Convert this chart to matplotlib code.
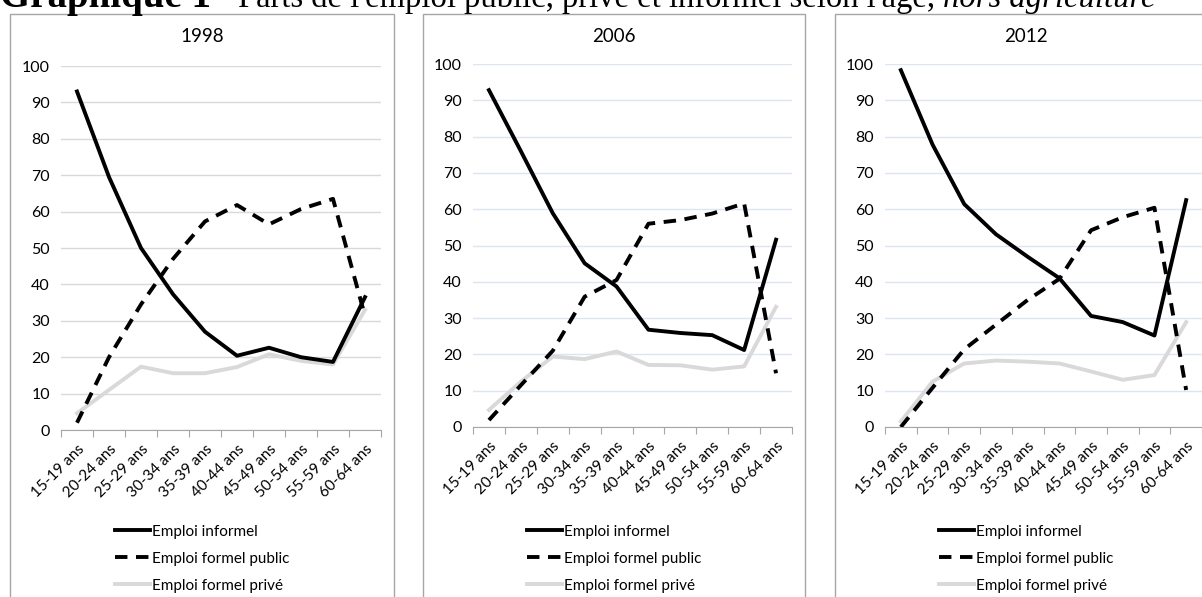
import matplotlib
matplotlib.use("Agg")
import matplotlib.pyplot as plt
from matplotlib.patches import Rectangle

plt.rcParams['font.family'] = ['Lato', 'DejaVu Sans']

ages = ["15-19 ans", "20-24 ans", "25-29 ans", "30-34 ans", "35-39 ans",
        "40-44 ans", "45-49 ans", "50-54 ans", "55-59 ans", "60-64 ans"]
years = ["1998", "2006", "2012"]

informel_1998 = [93, 69.5, 50, 37.3, 27, 20.4, 22.6, 20, 18.7, 36.5]
public_1998 = [2, 20, 34.5, 47, 57.3, 61.8, 56.5, 60.7, 63.5, 31.3]
prive_1998 = [4.6, 11, 17.4, 15.6, 15.6, 17.3, 20.8, 19, 18, 33]

informel_2006 = [92.8, 76, 58.9, 45.1, 38.7, 26.8, 25.9, 25.3, 21.2, 51.6]
public_2006 = [1.9, 11.5, 21, 35.9, 40.5, 56, 57, 58.8, 61.6, 14.8]
prive_2006 = [4.7, 12.5, 19.4, 18.7, 20.8, 17.1, 17, 15.8, 16.7, 33.1]

informel_2012 = [98.3, 77.8, 61.4, 53.1, 46.9, 41, 30.6, 28.9, 25.2, 62.5]
public_2012 = [0, 10.8, 21.4, 28.2, 35, 40.8, 54.2, 57.8, 60.4, 10.2]
prive_2012 = [1.5, 12.5, 17.5, 18.3, 18, 17.5, 15.3, 13, 14.3, 28.9]

series = {
    "1998": (informel_1998, public_1998, prive_1998),
    "2006": (informel_2006, public_2006, prive_2006),
    "2012": (informel_2012, public_2012, prive_2012),
}

W, H = 1202, 597
fig = plt.figure(figsize=(W / 100, H / 100), dpi=100)

# pixel layout: plot area (left, right, top, bottom), panel box (left, right)
plot_px = [(61, 381, 66, 430), (473, 792, 64, 427), (885, 1202, 64, 427)]
box_px = [(10, 394), (423, 805), (835, 1217)]
grid_cols = ["#d9d9d9", "#dde5f2", "#dde5f2"]


def fx(px):
    return px / W


def fy(py):
    return 1 - py / H


for i, year in enumerate(years):
    bl, br = box_px[i]
    fig.patches.append(Rectangle((fx(bl), fy(H + 5)), fx(br - bl), fy(14) - fy(H + 5),
                                 transform=fig.transFigure, fill=False,
                                 edgecolor="#a6a6a6", lw=1, zorder=0))
    l, r, t, b = plot_px[i]
    ax = fig.add_axes([fx(l), fy(b), fx(r - l), fy(t) - fy(b)])
    x = list(range(len(ages)))
    inf, pub, pri = series[year]
    ax.plot(x, pri, color="#d9d9d9", lw=2.8, label="Emploi formel privé",
            solid_joinstyle="round", zorder=3)
    ax.plot(x, pub, color="black", lw=2.8, dashes=(3.2, 2.2), label="Emploi formel public",
            zorder=4)
    ax.plot(x, inf, color="black", lw=2.8, label="Emploi informel",
            solid_joinstyle="round", zorder=5)

    ax.set_xlim(-0.5, 9.5)
    ax.set_ylim(0, 100)
    ax.set_yticks(range(0, 101, 10))
    ax.tick_params(axis="y", length=0, labelsize=11.5, pad=8)
    ax.yaxis.grid(True, color=grid_cols[i], lw=1)
    ax.set_axisbelow(True)
    ax.set_xticks([k - 0.5 for k in range(11)])
    ax.set_xticklabels([])
    ax.set_xticks(x, minor=True)
    ax.set_xticklabels(ages, minor=True, rotation=45, ha="right",
                       rotation_mode="anchor", fontsize=11)
    ax.tick_params(axis="x", which="major", length=5, color="#a6a6a6")
    ax.tick_params(axis="x", which="minor", length=0, pad=9)
    for s in ["top", "right", "left"]:
        ax.spines[s].set_visible(False)
    ax.spines["bottom"].set_color("#a6a6a6")

    fig.text(fx((bl + br) / 2), fy(36), year, ha="center", va="center", fontsize=13.5)

    handles, labels = ax.get_legend_handles_labels()
    order = [2, 1, 0]
    cx = (bl + br) / 2 if i < 2 else 1026
    ax.legend([handles[k] for k in order], [labels[k] for k in order],
              loc="upper center", bbox_to_anchor=(fx(cx), fy(517)),
              bbox_transform=fig.transFigure, frameon=False, fontsize=11,
              handlelength=2.3, handletextpad=0.15, labelspacing=0.85,
              borderpad=0)

# title, partly cut off at the top as in the source page
fig.canvas.draw()
renderer = fig.canvas.get_renderer()
parts = [("Graphique 1", "bold", "normal", 28),
         (" - Parts de l'emploi public, privé et informel selon l'âge, ", "normal", "normal", 23.5),
         ("hors agriculture", "normal", "italic", 23.5)]
xpos = fx(0)
for txt, wgt, sty, size in parts:
    t = fig.text(xpos, fy(6.5), txt, ha="left", va="baseline", fontsize=size,
                 family="Liberation Serif", weight=wgt, style=sty)
    bb = t.get_window_extent(renderer)
    xpos = bb.x1 / W

fig.savefig("out.png", dpi=100)
